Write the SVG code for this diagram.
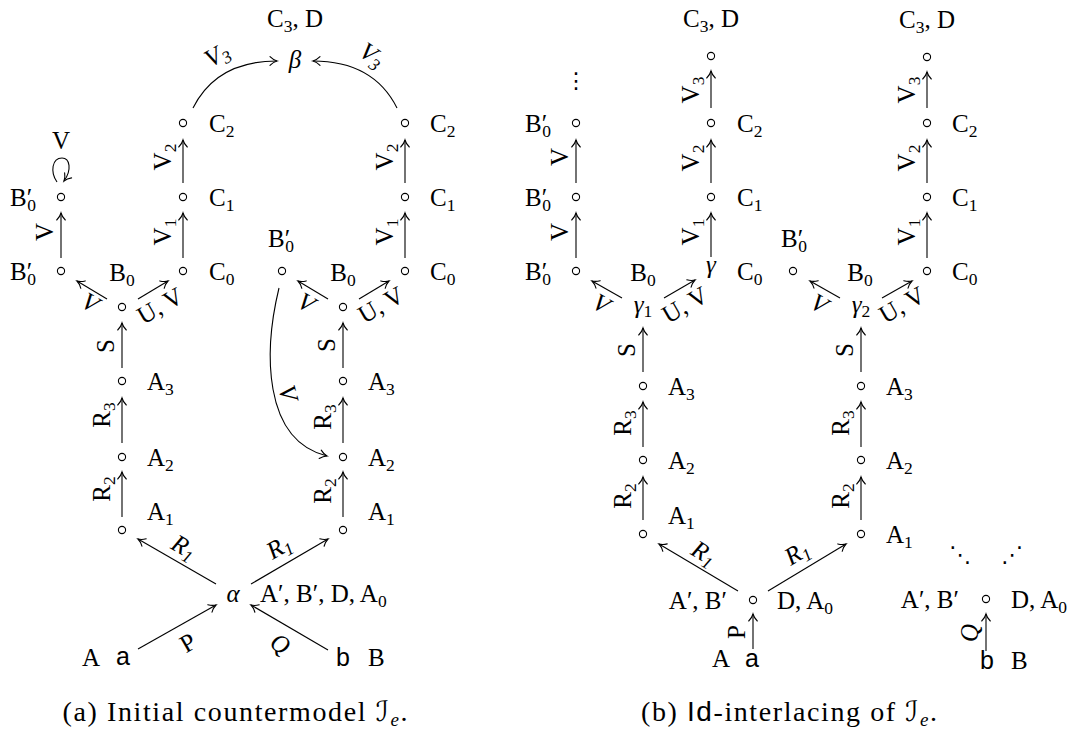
<svg xmlns="http://www.w3.org/2000/svg" width="1078" height="731" viewBox="0 0 1078 731">
<defs>
<style>
.t{font-family:"Liberation Serif","DejaVu Serif",serif;font-size:25px;fill:#000}
.i{font-style:italic}
.s{font-family:"Liberation Sans","DejaVu Sans",sans-serif}
.sc{font-family:"DejaVu Serif","DejaVu Sans",serif;font-style:normal}
.e{stroke:#000;stroke-width:1.1;fill:none;marker-end:url(#ah)}
.n{fill:#fff;stroke:#000;stroke-width:1.1}
.cap{font-family:"Liberation Serif","DejaVu Serif",serif;font-size:28px;fill:#000}
.d{font-family:"DejaVu Sans",sans-serif;font-size:22px}
</style>
<marker id="ah" markerUnits="userSpaceOnUse" markerWidth="12" markerHeight="12" viewBox="-8 -6 10 12" refX="0" refY="0" orient="auto" overflow="visible">
<path d="M-7,-4.3 C-4.5,-1.8 -1.8,-0.5 0,0 C-1.8,0.5 -4.5,1.8 -7,4.3" fill="none" stroke="#000" stroke-width="1.1" stroke-linecap="round"/>
</marker>
</defs>
<rect width="1078" height="731" fill="#fff"/>

<g id="connectors">
<!-- (a) left tree -->
<path class="e" d="M122,517 V472"/>
<path class="e" d="M122,443 V398"/>
<path class="e" d="M122,368 V323"/>
<path class="e" d="M107,299 L77,281"/>
<path class="e" d="M138,299 L168,281"/>
<path class="e" d="M61,258 V213"/>
<path class="e" d="M57,182 C50,172 52,158 62,158 C70,158 72,170 64,181"/>
<path class="e" d="M183,258 V213"/>
<path class="e" d="M183,183 V140"/>
<path class="e" d="M193,108 C208,78 236,61 277,61"/>
<!-- (a) right tree -->
<path class="e" d="M343,517 V472"/>
<path class="e" d="M343,443 V398"/>
<path class="e" d="M343,368 V323"/>
<path class="e" d="M328,299 L298,281"/>
<path class="e" d="M359,299 L389,281"/>
<path class="e" d="M405,258 V213"/>
<path class="e" d="M405,183 V140"/>
<path class="e" d="M397,108 C382,78 354,61 313,61"/>
<path class="e" d="M279,288 C264,350 262,440 327,456"/>
<!-- (a) bottom -->
<path class="e" d="M216,584 L138,539"/>
<path class="e" d="M251,584 L328,539"/>
<path class="e" d="M138,649 L216,605"/>
<path class="e" d="M328,650 L251,605"/>

<!-- (b) left tree -->
<path class="e" d="M643,520 V477"/>
<path class="e" d="M643,447 V402"/>
<path class="e" d="M643,372 V328"/>
<path class="e" d="M622,298 L592,281"/>
<path class="e" d="M664,298 L695,280"/>
<path class="e" d="M576,258 V213"/>
<path class="e" d="M576,183 V140"/>
<path class="e" d="M711,257 V213"/>
<path class="e" d="M711,183 V140"/>
<path class="e" d="M711,108 V71"/>
<!-- (b) right tree -->
<path class="e" d="M861,520 V477"/>
<path class="e" d="M861,447 V402"/>
<path class="e" d="M861,372 V328"/>
<path class="e" d="M840,298 L810,281"/>
<path class="e" d="M882,298 L912,281"/>
<path class="e" d="M927,258 V213"/>
<path class="e" d="M927,183 V140"/>
<path class="e" d="M927,108 V72"/>
<!-- (b) bottom -->
<path class="e" d="M738,591 L659,544"/>
<path class="e" d="M768,591 L846,544"/>
<path class="e" d="M753,649 V614"/>
<path class="e" d="M986,651 V614"/>
</g>

<g id="edge-labels" class="t">
<!-- (a) vertical -->
<text transform="translate(110,489) rotate(-90)" text-anchor="middle">R<tspan font-size="17.5" dy="4.5">2</tspan></text>
<text transform="translate(110,415) rotate(-90)" text-anchor="middle">R<tspan font-size="17.5" dy="4.5">3</tspan></text>
<text transform="translate(114,346) rotate(-90)" text-anchor="middle">S</text>
<text transform="translate(53,232) rotate(-90)" text-anchor="middle">V</text>
<text transform="translate(171,232) rotate(-90)" text-anchor="middle">V<tspan font-size="17.5" dy="4.5">1</tspan></text>
<text transform="translate(171,157) rotate(-90)" text-anchor="middle">V<tspan font-size="17.5" dy="4.5">2</tspan></text>
<text x="61" y="149" text-anchor="middle">V</text>
<text transform="translate(331,491) rotate(-90)" text-anchor="middle">R<tspan font-size="17.5" dy="4.5">2</tspan></text>
<text transform="translate(331,417) rotate(-90)" text-anchor="middle">R<tspan font-size="17.5" dy="4.5">3</tspan></text>
<text transform="translate(335,345) rotate(-90)" text-anchor="middle">S</text>
<text transform="translate(393,232) rotate(-90)" text-anchor="middle">V<tspan font-size="17.5" dy="4.5">1</tspan></text>
<text transform="translate(393,157) rotate(-90)" text-anchor="middle">V<tspan font-size="17.5" dy="4.5">2</tspan></text>
<!-- (a) diagonal -->
<text class="i" transform="translate(90,303) rotate(30)" text-anchor="middle" y="8">V</text>
<text transform="translate(160,306) rotate(-30)" text-anchor="middle" y="8">U, V</text>
<text class="i" transform="translate(306,303) rotate(30)" text-anchor="middle" y="8">V</text>
<text transform="translate(381,305) rotate(-30)" text-anchor="middle" y="8">U, V</text>
<text class="i" transform="translate(184,547) rotate(30)" text-anchor="middle" y="8">R<tspan font-size="17.5" dy="4.5">1</tspan></text>
<text class="i" transform="translate(279,547) rotate(-30)" text-anchor="middle" y="8">R<tspan font-size="17.5" dy="4.5">1</tspan></text>
<text transform="translate(188,643) rotate(-30)" text-anchor="middle" y="8">P</text>
<text class="i" transform="translate(280,644) rotate(30)" text-anchor="middle" y="8">Q</text>
<text class="i" transform="translate(217,55) rotate(-30)" text-anchor="middle" y="8">V<tspan font-size="17.5" dy="4.5">3</tspan></text>
<text class="i" transform="translate(372,55) rotate(35)" text-anchor="middle" y="8">V<tspan font-size="17.5" dy="4.5">3</tspan></text>
<text class="i" transform="translate(288,393) rotate(75)" text-anchor="middle" y="8">V</text>

<!-- (b) vertical -->
<text transform="translate(568,232) rotate(-90)" text-anchor="middle">V</text>
<text transform="translate(568,157) rotate(-90)" text-anchor="middle">V</text>
<text transform="translate(699,232) rotate(-90)" text-anchor="middle">V<tspan font-size="17.5" dy="4.5">1</tspan></text>
<text transform="translate(699,158) rotate(-90)" text-anchor="middle">V<tspan font-size="17.5" dy="4.5">2</tspan></text>
<text transform="translate(699,90) rotate(-90)" text-anchor="middle">V<tspan font-size="17.5" dy="4.5">3</tspan></text>
<text transform="translate(915,232) rotate(-90)" text-anchor="middle">V<tspan font-size="17.5" dy="4.5">1</tspan></text>
<text transform="translate(915,158) rotate(-90)" text-anchor="middle">V<tspan font-size="17.5" dy="4.5">2</tspan></text>
<text transform="translate(915,90) rotate(-90)" text-anchor="middle">V<tspan font-size="17.5" dy="4.5">3</tspan></text>
<text transform="translate(635,350) rotate(-90)" text-anchor="middle">S</text>
<text transform="translate(631,423) rotate(-90)" text-anchor="middle">R<tspan font-size="17.5" dy="4.5">3</tspan></text>
<text transform="translate(631,496) rotate(-90)" text-anchor="middle">R<tspan font-size="17.5" dy="4.5">2</tspan></text>
<text transform="translate(853,350) rotate(-90)" text-anchor="middle">S</text>
<text transform="translate(849,423) rotate(-90)" text-anchor="middle">R<tspan font-size="17.5" dy="4.5">3</tspan></text>
<text transform="translate(849,496) rotate(-90)" text-anchor="middle">R<tspan font-size="17.5" dy="4.5">2</tspan></text>
<text transform="translate(745,632) rotate(-90)" text-anchor="middle">P</text>
<text class="i" transform="translate(978,633) rotate(-90)" text-anchor="middle">Q</text>
<!-- (b) diagonal -->
<text class="i" transform="translate(601,304) rotate(30)" text-anchor="middle" y="8">V</text>
<text transform="translate(685,305) rotate(-30)" text-anchor="middle" y="8">U, V</text>
<text class="i" transform="translate(819,304) rotate(30)" text-anchor="middle" y="8">V</text>
<text transform="translate(902,305) rotate(-30)" text-anchor="middle" y="8">U, V</text>
<text class="i" transform="translate(704,553) rotate(31)" text-anchor="middle" y="8">R<tspan font-size="17.5" dy="4.5">1</tspan></text>
<text class="i" transform="translate(797,553) rotate(-31)" text-anchor="middle" y="8">R<tspan font-size="17.5" dy="4.5">1</tspan></text>
</g>

<!-- nodes (a) -->
<g id="a-Bp0-low" class="t"><circle class="n" cx="61" cy="271" r="3.6"/><text x="10" y="280">B<tspan>′</tspan><tspan font-size="17.5" dx="-5" dy="5">0</tspan></text></g>
<g id="a-Bp0-up" class="t"><circle class="n" cx="61" cy="197" r="3.6"/><text x="10" y="206">B<tspan>′</tspan><tspan font-size="17.5" dx="-5" dy="5">0</tspan></text></g>
<g id="a-L-C0" class="t"><circle class="n" cx="183" cy="271" r="3.6"/><text x="209" y="280">C<tspan font-size="17.5" dy="5">0</tspan></text></g>
<g id="a-L-C1" class="t"><circle class="n" cx="183" cy="197" r="3.6"/><text x="209" y="206">C<tspan font-size="17.5" dy="5">1</tspan></text></g>
<g id="a-L-C2" class="t"><circle class="n" cx="183" cy="123" r="3.6"/><text x="209" y="132">C<tspan font-size="17.5" dy="5">2</tspan></text></g>
<g id="a-L-fork" class="t"><circle class="n" cx="122" cy="307" r="3.6"/><text x="122" y="281" text-anchor="middle">B<tspan font-size="17.5" dy="5">0</tspan></text></g>
<g id="a-L-A3" class="t"><circle class="n" cx="122" cy="381" r="3.6"/><text x="147" y="390">A<tspan font-size="17.5" dy="5">3</tspan></text></g>
<g id="a-L-A2" class="t"><circle class="n" cx="122" cy="457" r="3.6"/><text x="147" y="466">A<tspan font-size="17.5" dy="5">2</tspan></text></g>
<g id="a-L-A1" class="t"><circle class="n" cx="122" cy="530" r="3.6"/><text x="147" y="520">A<tspan font-size="17.5" dy="5">1</tspan></text></g>

<g id="a-R-Bp0" class="t"><circle class="n" cx="282" cy="271" r="3.6"/><text x="268" y="247">B<tspan>′</tspan><tspan font-size="17.5" dx="-5" dy="5">0</tspan></text></g>
<g id="a-R-C0" class="t"><circle class="n" cx="405" cy="271" r="3.6"/><text x="430" y="280">C<tspan font-size="17.5" dy="5">0</tspan></text></g>
<g id="a-R-C1" class="t"><circle class="n" cx="405" cy="197" r="3.6"/><text x="430" y="206">C<tspan font-size="17.5" dy="5">1</tspan></text></g>
<g id="a-R-C2" class="t"><circle class="n" cx="405" cy="123" r="3.6"/><text x="430" y="132">C<tspan font-size="17.5" dy="5">2</tspan></text></g>
<g id="a-R-fork" class="t"><circle class="n" cx="343" cy="307" r="3.6"/><text x="343" y="281" text-anchor="middle">B<tspan font-size="17.5" dy="5">0</tspan></text></g>
<g id="a-R-A3" class="t"><circle class="n" cx="343" cy="381" r="3.6"/><text x="368" y="390">A<tspan font-size="17.5" dy="5">3</tspan></text></g>
<g id="a-R-A2" class="t"><circle class="n" cx="343" cy="457" r="3.6"/><text x="368" y="466">A<tspan font-size="17.5" dy="5">2</tspan></text></g>
<g id="a-R-A1" class="t"><circle class="n" cx="343" cy="530" r="3.6"/><text x="368" y="520">A<tspan font-size="17.5" dy="5">1</tspan></text></g>

<g id="a-beta" class="t"><text x="295" y="68" text-anchor="middle" class="i">β</text><text x="295" y="27" text-anchor="middle">C<tspan font-size="17.5" dy="5">3</tspan><tspan dy="-5">, D</tspan></text></g>
<g id="a-alpha" class="t"><text x="233" y="602" text-anchor="middle" class="i">α</text><text x="260" y="602">A′, B′, D, A<tspan font-size="17.5" dy="5">0</tspan></text></g>
<g id="a-a" class="t"><text x="82" y="666">A</text><text x="123" y="665" text-anchor="middle" class="s">a</text></g>
<g id="a-b" class="t"><text x="343" y="666" text-anchor="middle" class="s">b</text><text x="368" y="666">B</text></g>

<!-- nodes (b) -->
<g id="b-Bp0-1" class="t"><circle class="n" cx="576" cy="271" r="3.6"/><text x="525" y="280">B<tspan>′</tspan><tspan font-size="17.5" dx="-5" dy="5">0</tspan></text></g>
<g id="b-Bp0-2" class="t"><circle class="n" cx="576" cy="197" r="3.6"/><text x="525" y="206">B<tspan>′</tspan><tspan font-size="17.5" dx="-5" dy="5">0</tspan></text></g>
<g id="b-Bp0-3" class="t"><circle class="n" cx="576" cy="123" r="3.6"/><text x="525" y="132">B<tspan>′</tspan><tspan font-size="17.5" dx="-5" dy="5">0</tspan></text></g>
<g id="b-vdots" class="t"><text class="d" x="576" y="88" text-anchor="middle">⋮</text></g>

<g id="b-gamma" class="t"><text x="711" y="273" text-anchor="middle" class="i">γ</text><text x="737" y="280">C<tspan font-size="17.5" dy="5">0</tspan></text></g>
<g id="b-L-C1" class="t"><circle class="n" cx="711" cy="197" r="3.6"/><text x="737" y="206">C<tspan font-size="17.5" dy="5">1</tspan></text></g>
<g id="b-L-C2" class="t"><circle class="n" cx="711" cy="123" r="3.6"/><text x="737" y="132">C<tspan font-size="17.5" dy="5">2</tspan></text></g>
<g id="b-L-C3" class="t"><circle class="n" cx="711" cy="56" r="3.6"/><text x="711" y="27" text-anchor="middle">C<tspan font-size="17.5" dy="5">3</tspan><tspan dy="-5">, D</tspan></text></g>

<g id="b-R-Bp0" class="t"><circle class="n" cx="793" cy="271" r="3.6"/><text x="781" y="247">B<tspan>′</tspan><tspan font-size="17.5" dx="-5" dy="5">0</tspan></text></g>
<g id="b-R-C0" class="t"><circle class="n" cx="927" cy="271" r="3.6"/><text x="952" y="280">C<tspan font-size="17.5" dy="5">0</tspan></text></g>
<g id="b-R-C1" class="t"><circle class="n" cx="927" cy="197" r="3.6"/><text x="952" y="206">C<tspan font-size="17.5" dy="5">1</tspan></text></g>
<g id="b-R-C2" class="t"><circle class="n" cx="927" cy="123" r="3.6"/><text x="952" y="132">C<tspan font-size="17.5" dy="5">2</tspan></text></g>
<g id="b-R-C3" class="t"><circle class="n" cx="927" cy="57" r="3.6"/><text x="927" y="28" text-anchor="middle">C<tspan font-size="17.5" dy="5">3</tspan><tspan dy="-5">, D</tspan></text></g>

<g id="b-gamma1" class="t"><text x="643" y="313" text-anchor="middle"><tspan class="i">γ</tspan><tspan font-size="17.5" dy="4">1</tspan></text><text x="643" y="281" text-anchor="middle">B<tspan font-size="17.5" dy="5">0</tspan></text></g>
<g id="b-L-A3" class="t"><circle class="n" cx="643" cy="386" r="3.6"/><text x="668" y="395">A<tspan font-size="17.5" dy="5">3</tspan></text></g>
<g id="b-L-A2" class="t"><circle class="n" cx="643" cy="460" r="3.6"/><text x="668" y="469">A<tspan font-size="17.5" dy="5">2</tspan></text></g>
<g id="b-L-A1" class="t"><circle class="n" cx="643" cy="534" r="3.6"/><text x="668" y="524">A<tspan font-size="17.5" dy="5">1</tspan></text></g>

<g id="b-gamma2" class="t"><text x="861" y="313" text-anchor="middle"><tspan class="i">γ</tspan><tspan font-size="17.5" dy="4">2</tspan></text><text x="860" y="281" text-anchor="middle">B<tspan font-size="17.5" dy="5">0</tspan></text></g>
<g id="b-R-A3" class="t"><circle class="n" cx="861" cy="386" r="3.6"/><text x="886" y="395">A<tspan font-size="17.5" dy="5">3</tspan></text></g>
<g id="b-R-A2" class="t"><circle class="n" cx="861" cy="460" r="3.6"/><text x="886" y="469">A<tspan font-size="17.5" dy="5">2</tspan></text></g>
<g id="b-R-A1" class="t"><circle class="n" cx="861" cy="534" r="3.6"/><text x="886" y="543">A<tspan font-size="17.5" dy="5">1</tspan></text></g>

<g id="b-mid" class="t"><circle class="n" cx="753" cy="600" r="3.6"/><text x="727" y="609" text-anchor="end">A′, B′</text><text x="777" y="609">D, A<tspan font-size="17.5" dy="5">0</tspan></text></g>
<g id="b-a" class="t"><text x="712" y="667">A</text><text x="752" y="667" text-anchor="middle" class="s">a</text></g>
<g id="b-right" class="t"><circle class="n" cx="986" cy="599" r="3.6"/><text x="959" y="608" text-anchor="end">A′, B′</text><text x="1011" y="608">D, A<tspan font-size="17.5" dy="5">0</tspan></text></g>
<g id="b-b" class="t"><text x="987" y="669" text-anchor="middle" class="s">b</text><text x="1011" y="669">B</text></g>
<g id="b-ddots" class="t"><text class="d" x="960" y="562" text-anchor="middle">⋱</text><text class="d" x="1012" y="562" text-anchor="middle">⋰</text></g>

<!-- captions -->
<text class="cap" x="235" y="721" text-anchor="middle" textLength="345" lengthAdjust="spacing">(a) Initial countermodel <tspan class="sc">ℐ</tspan><tspan class="i" font-size="19" dy="5">e</tspan><tspan dy="-5">.</tspan></text>
<text class="cap" x="789" y="721" text-anchor="middle" textLength="296" lengthAdjust="spacing">(b) <tspan class="s">Id</tspan>-interlacing of <tspan class="sc">ℐ</tspan><tspan class="i" font-size="19" dy="5">e</tspan><tspan dy="-5">.</tspan></text>
</svg>
